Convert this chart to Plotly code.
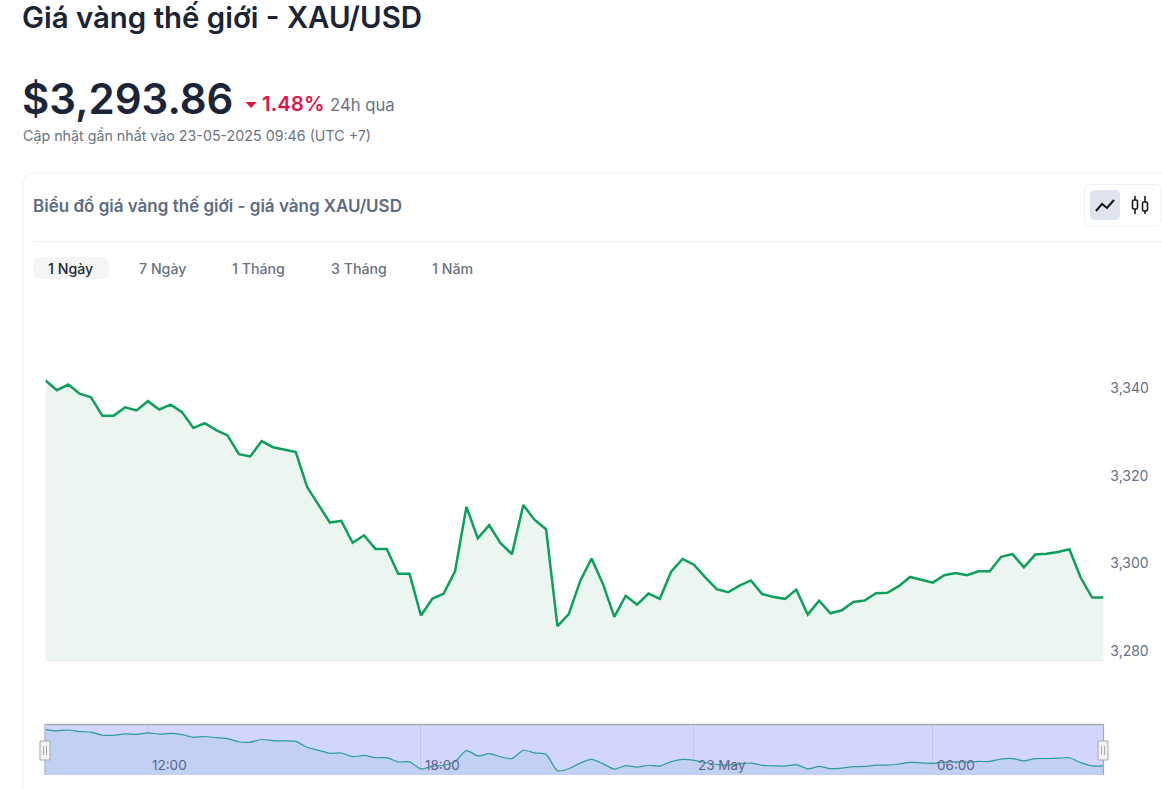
import plotly.graph_objects as go

W, H = 1162, 789
FONT = "Inter"

prices = [
    3341.7, 3339.5, 3340.8, 3338.7, 3337.9, 3333.7, 3333.7, 3335.6, 3334.9, 3337.0, 3335.1, 3336.2,
    3334.5, 3330.9, 3332.0, 3330.4, 3329.2, 3324.9, 3324.4, 3327.9, 3326.5, 3326.0, 3325.4, 3317.4,
    3313.3, 3309.3, 3309.7, 3304.7, 3306.4, 3303.3, 3303.3, 3297.6, 3297.6, 3288.1, 3291.9, 3293.1,
    3298.2, 3312.9, 3305.7, 3308.7, 3304.6, 3302.1, 3313.3, 3309.9, 3307.8, 3285.7, 3288.4, 3296.0,
    3301.1, 3295.3, 3287.8, 3292.6, 3290.6, 3293.1, 3291.9, 3298.1, 3301.0, 3299.7, 3296.8, 3294.1,
    3293.4, 3294.9, 3296.1, 3293.0, 3292.3, 3291.9, 3294.0, 3288.3, 3291.5, 3288.6, 3289.3, 3291.2,
    3291.5, 3293.2, 3293.3, 3294.8, 3296.9, 3296.3, 3295.6, 3297.3, 3297.8, 3297.3, 3298.2, 3298.2,
    3301.5, 3302.1, 3299.1, 3302.0, 3302.2, 3302.6, 3303.2, 3296.7, 3292.2, 3292.2,
]
point_index = list(range(len(prices)))
y_ticks = [3280, 3300, 3320, 3340]
slider_tick_index = [9, 33, 57, 78]
slider_tick_labels = ["12:00", "18:00", "23 May", "06:00"]
range_tabs = ["1 Ngày", "7 Ngày", "1 Tháng", "3 Tháng", "1 Năm"]
range_tab_left = [46.5, 137.5, 230.5, 329.5, 430.5]

L, R = 45.5, 1103.5


def px(x):
    return x / W


def py(y):
    return 1 - y / H


def rect(x0, y0, x1, y1, fill="rgba(0,0,0,0)", line="rgba(0,0,0,0)", width=1, layer="below"):
    return dict(type="rect", xref="paper", yref="paper", x0=px(x0), x1=px(x1), y0=py(y0), y1=py(y1),
                fillcolor=fill, line=dict(color=line, width=width), layer=layer)


def round_rect(x0, y0, x1, y1, r, fill="rgba(0,0,0,0)", line="rgba(0,0,0,0)", width=1, layer="below"):
    pts = [("M", x0 + r, y0), ("L", x1 - r, y0), ("Q", x1, y0, x1, y0 + r), ("L", x1, y1 - r),
           ("Q", x1, y1, x1 - r, y1), ("L", x0 + r, y1), ("Q", x0, y1, x0, y1 - r), ("L", x0, y0 + r),
           ("Q", x0, y0, x0 + r, y0)]
    return path(pts, fill, line, width, layer, close=True)


def path(pts, fill="rgba(0,0,0,0)", line="rgba(0,0,0,0)", width=1, layer="below", close=False):
    parts = []
    for p in pts:
        coords = p[1:]
        txt = " ".join(
            f"{px(coords[i]):.5f},{py(coords[i + 1]):.5f}" for i in range(0, len(coords), 2))
        parts.append(f"{p[0]} {txt}")
    return dict(type="path", xref="paper", yref="paper", path=" ".join(parts) + (" Z" if close else ""),
                fillcolor=fill, line=dict(color=line, width=width), layer=layer)


def seg(x0, y0, x1, y1, color, width=1, layer="below"):
    return dict(type="line", xref="paper", yref="paper", x0=px(x0), x1=px(x1), y0=py(y0), y1=py(y1),
                line=dict(color=color, width=width), layer=layer)


def text(s, x, y, size, color, weight=400, family=FONT):
    return dict(text=s, xref="paper", yref="paper", x=px(x), y=py(y), xanchor="left", yanchor="middle",
                showarrow=False, borderpad=0, font=dict(family=family, size=size, color=color, weight=weight))


def handle(cx):
    return [
        rect(cx - 5, 741, cx + 5, 760, fill="#f2f2f2", line="#a9a9a9", width=1, layer="above"),
        seg(cx - 1.5, 746, cx - 1.5, 755, "#a9a9a9", 1, "above"),
        seg(cx + 1.5, 746, cx + 1.5, 755, "#a9a9a9", 1, "above"),
    ]


fig = go.Figure()
fig.add_trace(go.Scatter(x=point_index, y=prices, mode="lines", xaxis="x", yaxis="y",
                         line=dict(color="#0d9f5b", width=2.5), fill="tozeroy", fillcolor="#ebf6f0",
                         hoverinfo="skip", showlegend=False))
fig.add_trace(go.Scatter(x=point_index, y=prices, mode="lines", xaxis="x2", yaxis="y2",
                         line=dict(color="#2b9d98", width=1.2, shape="spline", smoothing=0.7),
                         fill="tozeroy", fillcolor="#c2d0f3", hoverinfo="skip", showlegend=False))

shapes = [
    round_rect(23, 173, 1190, 830, 12, line="#f0f1f3"),
    seg(33, 241.5, 1162, 241.5, "#eef0f2"),
    round_rect(33, 257, 109, 279, 6, fill="#f5f5f5"),
    round_rect(1084.5, 184.5, 1161, 226, 6, line="#f0f1f4"),
    round_rect(1090, 190, 1120, 220, 5, fill="#e0e4ee"),
    path([("M", 1096, 211), ("L", 1102, 204), ("L", 1107, 208), ("L", 1114, 200)], line="#16181d", width=2),
    seg(1135, 196, 1135, 214, "#16181d", 1.6),
    seg(1145, 196, 1145, 214, "#16181d", 1.6),
    round_rect(1132.5, 200, 1137.5, 209, 1.5, fill="#ffffff", line="#16181d", width=1.6),
    round_rect(1142.5, 202, 1147.5, 211, 1.5, fill="#ffffff", line="#16181d", width=1.6),
    path([("M", 245.5, 102), ("L", 256.5, 102), ("L", 251, 108)], fill="#e6143d", close=True),
    rect(L, 724, R, 775, fill="#d2d6ff"),
    seg(L, 724.5, R, 724.5, "#a9a9a9", 1.6, "above"),
    seg(L - 0.5, 724, L - 0.5, 775, "#a9a9a9", 1.2, "above"),
    seg(R, 724, R, 775, "#a9a9a9", 1.2, "above"),
] + handle(45) + handle(1103)

annotations = [
    text("Giá vàng thế giới - XAU/USD", 21, 18, 29.4, "#1a2433", 600),
    text("$3,293.86", 21, 98, 42, "#1b2537", 600),
    text("1.48%", 261, 103, 20.5, "#e0164c", 600),
    text("24h qua", 328.5, 105.5, 16.7, "#6b7280", 400),
    text("Cập nhật gần nhất vào 23-05-2025 09:46 (UTC +7)", 21.5, 136.5, 14.25, "#6b7280", 400),
    text("Biểu đồ giá vàng thế giới - giá vàng XAU/USD", 32, 206, 17, "#5d6b80", 600),
]
for i, (tab, left) in enumerate(zip(range_tabs, range_tab_left)):
    annotations.append(text(tab, left, 268.5, 14.2, "#1f2733" if i == 0 else "#6b7280", 500))
for idx, lab in zip(slider_tick_index, slider_tick_labels):
    annotations.append(dict(text=lab, xref="x2", yref="paper", x=idx, y=py(765), xanchor="left", yanchor="middle",
                            xshift=3.5, showarrow=False, borderpad=0,
                            font=dict(family=FONT, size=13.5, color="#5f6488")))

fig.update_layout(
    width=W, height=H, margin=dict(l=0, r=0, t=0, b=0, autoexpand=False),
    paper_bgcolor="#ffffff", plot_bgcolor="rgba(0,0,0,0)", showlegend=False,
    shapes=shapes, annotations=annotations, font=dict(family=FONT),
    xaxis=dict(domain=[px(L), px(R)], range=[0, len(prices) - 1], anchor="y", showgrid=False, zeroline=False,
               showticklabels=False, ticks="", showline=True, linecolor="#e6ebee", linewidth=1),
    yaxis=dict(domain=[py(660), py(300)], range=[3277.95, 3360.08], anchor="x", side="right", showgrid=False,
               zeroline=False, showline=False, tickvals=y_ticks, tickformat=",", ticks="outside", ticklen=3,
               tickcolor="rgba(0,0,0,0)", tickfont=dict(family=FONT, size=14, color="#667085")),
    xaxis2=dict(domain=[px(L), px(R)], range=[0, len(prices) - 1], anchor="y2", showgrid=True, gridcolor="#bcc6ea",
                gridwidth=1, zeroline=False, tickvals=slider_tick_index, showticklabels=False, ticks=""),
    yaxis2=dict(domain=[py(775), py(724)], range=[3279.9, 3348.9], anchor="x2", showgrid=False, zeroline=False,
                showticklabels=False, ticks=""),
)

fig.write_html("out.html", config=dict(displayModeBar=False),
               post_script="document.body.style.margin='0';document.body.style.overflow='hidden';")
